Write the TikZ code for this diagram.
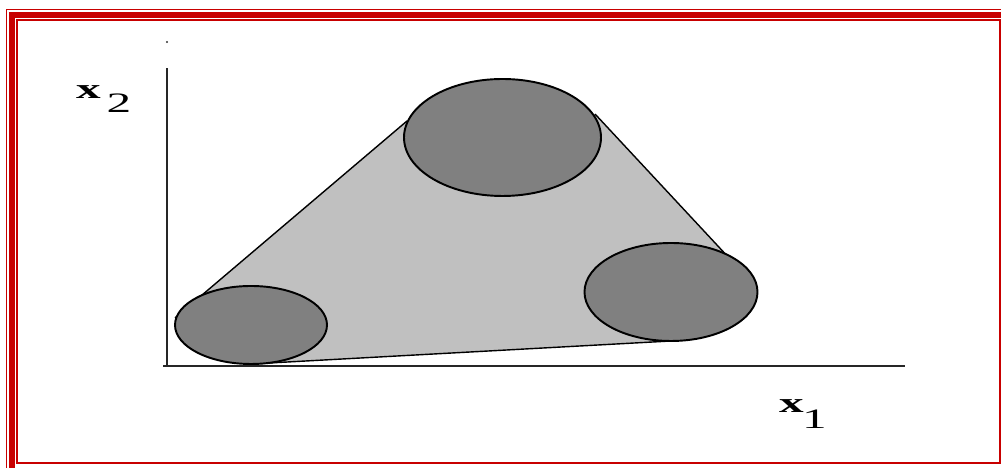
\documentclass[tikz,border=0pt]{standalone}
\usepackage{fontspec}
\setmainfont{Liberation Serif}
\usetikzlibrary{positioning}
\definecolor{framered}{RGB}{200,0,0}
\definecolor{hullgray}{RGB}{192,192,192}
\definecolor{blobgray}{RGB}{128,128,128}

\begin{document}
\begin{tikzpicture}[x=1cm,y=1cm,
    blob/.style={fill=blobgray,draw=black,line width=0.55pt},
    edge/.style={draw=black,line width=0.4pt},
    axis/.style={draw=black!85,line width=0.7pt},
    lbl/.style={inner sep=0pt,font=\fontsize{8}{9}\selectfont,xscale=1.75}]
    \useasboundingbox (0,0) rectangle (10.01,4.68);
    \clip (0,0) rectangle (10.01,4.68);
    % frame
    \draw[framered,line width=0.5pt] (0.065,-1) rectangle (11,4.585);
    \draw[framered,line width=1.5pt] (0.12,-1) rectangle (11,4.53);
    \draw[framered,line width=0.7pt] (0.17,0.05) rectangle (10.0,4.48);
    % axes
    \draw[axis] (1.67,1.01)--(1.67,4.00);
    \draw[axis] (1.63,1.02)--(9.05,1.02);
    \fill[black!80] (1.67,4.26) circle (0.012);
    % convex hull of the three sets
    \coordinate (cl) at (2.51,1.43);
    \coordinate (ct) at (5.025,3.305);
    \coordinate (cr) at (6.71,1.76);
    \coordinate (tl1) at (1.75,1.50);
    \coordinate (tl2) at (4.07,3.47);
    \coordinate (tr1) at (5.95,3.54);
    \coordinate (tr2) at (7.57,1.80);
    \coordinate (tb1) at (6.71,1.27);
    \coordinate (tb2) at (2.51,1.04);
    \fill[hullgray] (tl1)--(tl2)--(tr1)--(tr2)--(tb1)--(tb2)--cycle;
    \draw[edge] (tl1)--(tl2);
    \draw[edge] (tr1)--(tr2);
    \draw[edge] (tb1)--(tb2);
    \draw[blob] (cl) ellipse [x radius=0.76,y radius=0.39];
    \draw[blob] (ct) ellipse [x radius=0.985,y radius=0.585];
    \draw[blob] (cr) ellipse [x radius=0.865,y radius=0.49];
    % labels
    \node[lbl] (xtwo) at (0.885,3.76) {\textbf{x}};
    \node[lbl] (xtwoidx) at (1.19,3.645) {2};
    \node[lbl] (xone) at (7.915,0.615) {\textbf{x}};
    \node[lbl] (xoneidx) at (8.145,0.485) {1};
\end{tikzpicture}
\end{document}
